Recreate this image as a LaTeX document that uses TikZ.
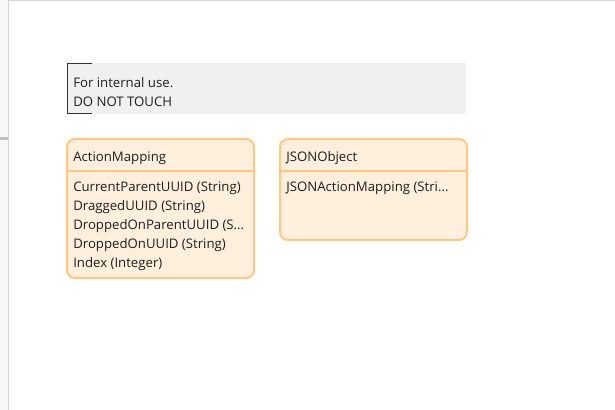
\documentclass[tikz,border=0pt]{standalone}
\usepackage{fontspec}
\setmainfont{Open Sans}
\definecolor{umlborder}{HTML}{FFC880}
\definecolor{umlfill}{HTML}{FFEFDC}
\definecolor{notefill}{HTML}{F0F0F0}
\definecolor{frameline}{HTML}{D4D4D4}
\definecolor{framefill}{HTML}{F7F7F7}
\definecolor{txt}{HTML}{1E1E1E}
\tikzset{
  px/.style={x=0.75pt,y=-0.75pt},
  umlbox/.style={draw=umlborder,fill=umlfill,line width=1.5pt,rounded corners=6pt},
  sepline/.style={draw=umlborder,line width=1.5pt},
  lbl/.style={anchor=west,inner sep=0pt,text=txt,font=\fontsize{9.9pt}{12pt}\selectfont},
}
\begin{document}
\begin{tikzpicture}[px]
\useasboundingbox (0,0) rectangle (615,410);
% frame
\fill[framefill] (0,0) rectangle (8,410);
\draw[frameline,line width=0.75pt] (8.5,0) -- (8.5,410);
\draw[frameline,line width=1pt] (8,0.7) -- (615,0.7);
\fill[black!25] (0,137.5) rectangle (8,140.5);
% note
\fill[notefill] (67,63) rectangle (466,114);
\draw[black!80,line width=0.75pt] (92,63.5) -- (67.5,63.5) -- (67.5,114) -- (92,114);
\node[lbl] (n1) at (73,82.5) {For internal use.};
\node[lbl] (n2) at (73,101.5) {DO NOT TOUCH};
% ActionMapping
\draw[umlbox] (67,139) rectangle (254,278);
\draw[sepline] (67,171) -- (254,171);
\node[lbl] (am) at (73,158.5) {ActionMapping};
\node[lbl] (a1) at (73,188) {CurrentParentUUID (String)};
\node[lbl] (a2) at (73,207) {DraggedUUID (String)};
\node[lbl] (a3) at (73,226) {DroppedOnParentUUID (S...};
\node[lbl] (a4) at (73,245) {DroppedOnUUID (String)};
\node[lbl] (a5) at (73,264) {Index (Integer)};
% JSONObject
\draw[umlbox] (280,139) rectangle (467,240);
\draw[sepline] (280,171) -- (467,171);
\node[lbl] (jo) at (286,158.5) {JSONObject};
\node[lbl] (j1) at (286,188) {JSONActionMapping (Stri...};
\end{tikzpicture}
\end{document}
